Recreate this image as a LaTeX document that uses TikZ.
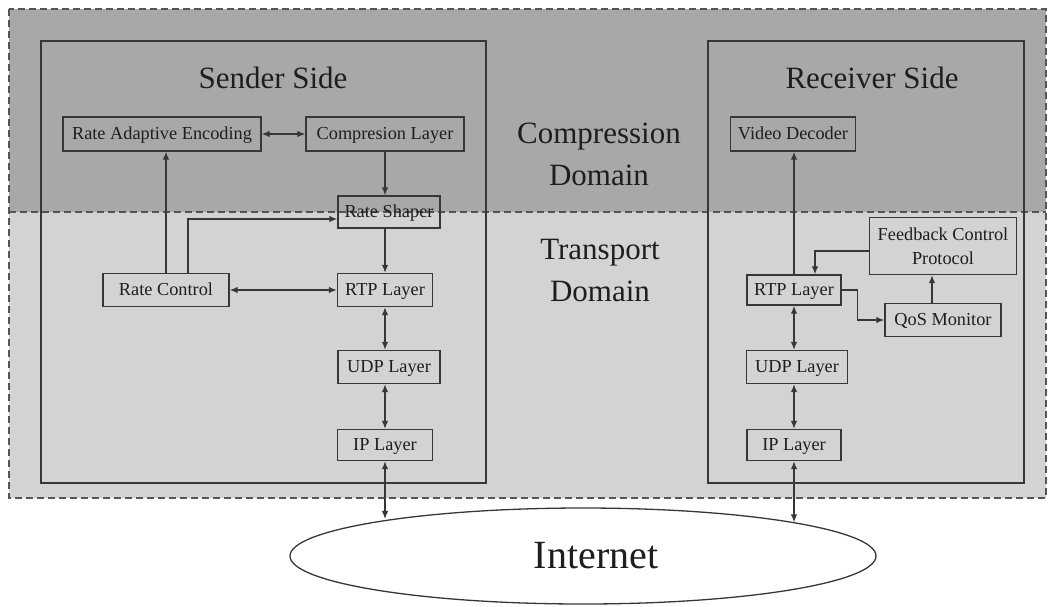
\documentclass[tikz,border=0pt]{standalone}
\usepackage{fontspec}
\setmainfont{Liberation Serif}
\usetikzlibrary{arrows.meta,shapes.geometric}
\definecolor{topgray}{RGB}{168,168,168}
\definecolor{botgray}{RGB}{211,211,211}
\definecolor{dashc}{RGB}{85,85,85}
\definecolor{boxc}{RGB}{55,55,55}
\definecolor{txtc}{RGB}{30,30,30}
\tikzset{
  box/.style={draw=boxc, line width=1.4pt, inner sep=0pt, text=txtc,
    font=\fontsize{18.3}{24}\selectfont, align=center},
  one/.style={text height=12.5pt, text depth=1pt},
  sidebox/.style={draw=boxc, line width=2pt},
  title/.style={text=txtc, font=\fontsize{31}{42}\selectfont, align=center},
  conn/.style={draw=boxc, line width=1.3pt},
  tip/.style={-{Latex[length=8pt,width=6.5pt]}},
  tips/.style={{Latex[length=8pt,width=6.5pt]}-{Latex[length=8pt,width=6.5pt]}},
  domline/.style={draw=dashc, line width=1.2pt, dash pattern=on 7pt off 4pt}
}
\begin{document}
\begin{tikzpicture}[x=1pt,y=-1pt]
\useasboundingbox (0,0) rectangle (1051,606);
% domains
\fill[topgray] (9,9) rectangle (1046,212);
\fill[botgray] (9,212) rectangle (1046,498);
\draw[domline] (9,9) rectangle (1046,498);
\draw[domline] (9,212) -- (1046,212);
% side boxes
\draw[sidebox] (41,41) rectangle (486,483);
\draw[sidebox] (708,41) rectangle (1024,483);
\node[title] (ts) at (273,78) {Sender Side};
\node[title] (tr) at (872,78) {Receiver Side};
\node[title] (cd) at (599,154) {Compression\\Domain};
\node[title] (td) at (600,270) {Transport\\Domain};
% sender nodes
\node[box, one, minimum width=198, minimum height=34] (rae) at (162,134) {Rate Adaptive Encoding};
\node[box, one, minimum width=158, minimum height=34] (cl) at (385,134) {Compresion Layer};
\node[box, one, minimum width=102, minimum height=32] (rs) at (389,212) {Rate Shaper};
\node[box, one, minimum width=126, minimum height=33] (rc) at (166,290) {Rate Control};
\node[box, one, minimum width=95, minimum height=33] (rtp1) at (385,290) {RTP Layer};
\node[box, one, minimum width=102, minimum height=33] (udp1) at (389,367) {UDP Layer};
\node[box, one, minimum width=95, minimum height=31] (ip1) at (385,445) {IP Layer};
% receiver nodes
\node[box, one, minimum width=125, minimum height=34] (vd) at (793,134) {Video Decoder};
\node[box, minimum width=147, minimum height=57] (fcp) at (943,246) {Feedback Control\\Protocol};
\node[box, one, minimum width=94, minimum height=30] (rtp2) at (794,290) {RTP Layer};
\node[box, one, minimum width=116, minimum height=33] (qos) at (943,320) {QoS Monitor};
\node[box, one, minimum width=101, minimum height=33] (udp2) at (797,367) {UDP Layer};
\node[box, one, minimum width=94, minimum height=31] (ip2) at (794,445) {IP Layer};
% internet
\node[draw=boxc, line width=1.3pt, ellipse, minimum width=586, minimum height=96, inner sep=0pt,
  text=txtc, font=\fontsize{40}{48}\selectfont] (inet) at (583,556) {\hspace*{26pt}Internet};
\coordinate (ia) at (inet.169.7);
\coordinate (ib) at (inet.9.06);
% sender connectors
\draw[conn,tips] (rae.east) -- (cl.west);
\draw[conn,tip] (cl.south) -- (cl.south |- rs.north);
\draw[conn,tip] (rc.north) -- (rc.north |- rae.south);
\draw[conn,tip] ([xshift=22pt]rc.north) |- ([yshift=-7pt]rs.west);
\draw[conn,tip] (rtp1.north |- rs.south) -- (rtp1.north);
\draw[conn,tips] (rc.east) -- (rtp1.west);
\draw[conn,tips] (rtp1.south) -- (rtp1.south |- udp1.north);
\draw[conn,tips] (ip1.north |- udp1.south) -- (ip1.north);
\draw[conn,tips] (ip1.south) -- (ip1.south |- ia);
% receiver connectors
\draw[conn,tip] (rtp2.north) -- (rtp2.north |- vd.south);
\draw[conn,tip] ([yshift=-5pt]fcp.west) -| ([xshift=21pt]rtp2.north);
\draw[conn,tip] (rtp2.east) -- ++(16,0) |- (qos.west);
\draw[conn,tip] ([xshift=-11pt]qos.north) -- ([xshift=-11pt]qos.north |- fcp.south);
\draw[conn,tips] (rtp2.south) -- (rtp2.south |- udp2.north);
\draw[conn,tips] (ip2.north |- udp2.south) -- (ip2.north);
\draw[conn,tips] (ip2.south) -- (ip2.south |- ib);
\end{tikzpicture}
\end{document}
